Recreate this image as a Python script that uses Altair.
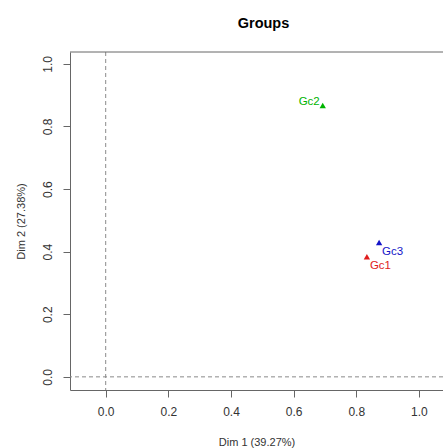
import altair as alt
import pandas as pd

# Group coordinates on the first two MFA dimensions
groups = ["Gc1", "Gc2", "Gc3"]
dim1 = [0.834, 0.693, 0.873]
dim2 = [0.384, 0.867, 0.429]
point_colors = ["#e01c1c", "#00b400", "#1414c8"]
label_colors = ["#d23c3c", "#46c046", "#3a3ac4"]
tick_values = [0.0, 0.2, 0.4, 0.6, 0.8, 1.0]

df = pd.DataFrame({"group": groups, "dim1": dim1, "dim2": dim2})

W, H = 373, 338
FONT = "Liberation Sans"

xs = alt.Scale(domain=[-0.114, 1.077], zero=False, nice=False)
ys = alt.Scale(domain=[-0.042, 1.038], zero=False, nice=False)
color_pts = alt.Scale(domain=groups, range=point_colors)
color_txt = alt.Scale(domain=groups, range=label_colors)

x_enc = alt.X(
    "dim1:Q", scale=xs, title="Dim 1 (39.27%)",
    axis=alt.Axis(values=tick_values, format=".1f", grid=False, tickSize=7,
                  labelPadding=9, titlePadding=19),
)
y_enc = alt.Y(
    "dim2:Q", scale=ys, title="Dim 2 (27.38%)",
    axis=alt.Axis(values=tick_values, format=".1f", grid=False, tickSize=7,
                  labelAngle=270, labelPadding=9, titlePadding=15),
)

base = alt.Chart(df)

points = base.mark_point(shape="triangle-up", filled=True, size=40, opacity=1).encode(
    x=x_enc, y=y_enc,
    color=alt.Color("group:N", scale=color_pts, legend=None),
)

lbl_gc2 = base.transform_filter(alt.datum.group == "Gc2").mark_text(
    align="right", baseline="middle", dx=-3, dy=-4, fontSize=11.5, font=FONT
).encode(x="dim1:Q", y="dim2:Q", text="group:N",
         color=alt.Color("group:N", scale=color_txt, legend=None))

lbl_other = base.transform_filter(alt.datum.group != "Gc2").mark_text(
    align="left", baseline="middle", dx=3, dy=9, fontSize=11.5, font=FONT
).encode(x="dim1:Q", y="dim2:Q", text="group:N",
         color=alt.Color("group:N", scale=color_txt, legend=None))

zero_df = pd.DataFrame({"z": [0.0]})
vline = alt.Chart(zero_df).mark_rule(color="#8a8a8a", strokeDash=[4, 3], strokeWidth=1).encode(
    x=alt.X("z:Q", scale=xs)
)
hline = alt.Chart(zero_df).mark_rule(color="#8a8a8a", strokeDash=[4, 3], strokeWidth=1).encode(
    y=alt.Y("z:Q", scale=ys)
)

# top edge of the plotting box
top_edge = alt.Chart(zero_df).mark_rule(color="#666666", strokeWidth=1).encode(
    x=alt.value(0), x2=alt.value(W), y=alt.value(0)
)

chart = alt.layer(vline, hline, top_edge, points, lbl_gc2, lbl_other).properties(
    width=W, height=H,
    autosize=alt.AutoSizeParams(type="none"),
    padding={"left": 70, "top": 52, "right": 0, "bottom": 58},
    title=alt.TitleParams(
        "Groups", font=FONT, fontSize=14.5, fontWeight="bold", color="#000000",
        anchor="middle", frame="group", offset=20, dx=7,
    ),
).configure(background="white").configure_view(stroke=None).configure_axis(
    domainColor="#666666", tickColor="#666666", domainWidth=1, tickWidth=1,
    labelFont=FONT, titleFont=FONT, labelFontSize=12, titleFontSize=11,
    labelColor="#333333", titleColor="#333333", titleFontWeight="normal",
)

chart.save("out.html", embed_options={"renderer": "svg", "actions": False})
